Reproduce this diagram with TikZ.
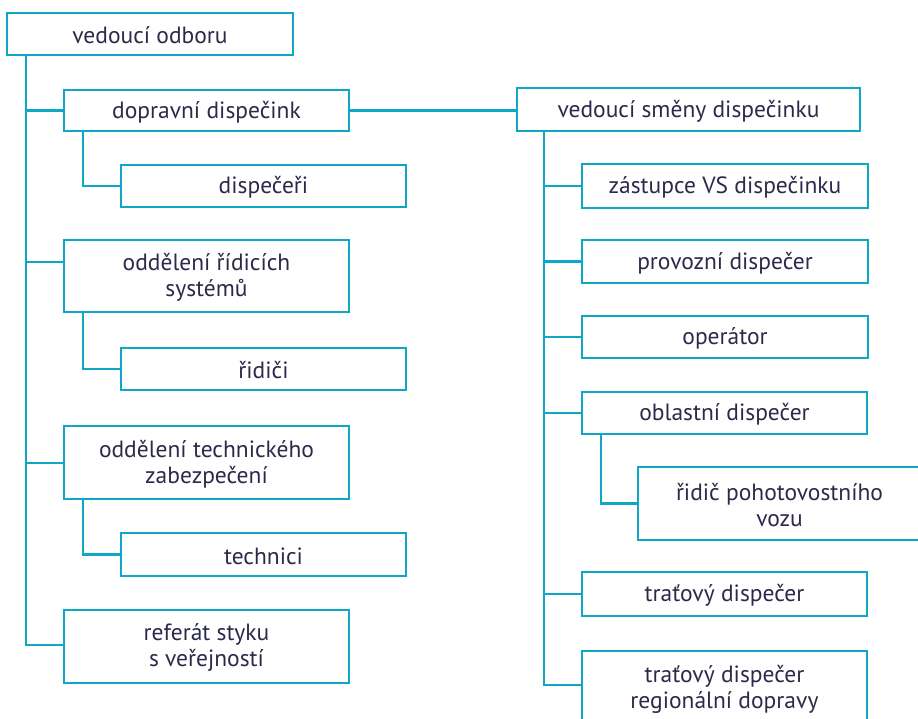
\documentclass[tikz,border=0pt]{standalone}
\usepackage{fontspec}
\setmainfont{PT Sans}
\definecolor{lineblue}{HTML}{0EA7C6}
\definecolor{txt}{HTML}{2B2A4A}
\newcommand\orgbox[6]{\node[ob, minimum width={#4-#2}, minimum height={#5-#3}] (#1) at ({(#2+#4)/2},{(#3+#5)/2}) {};
  \node[lbl] (#1-t) at ([yshift=-1.5pt]#1.center) {#6};}
\begin{document}
\begin{tikzpicture}[x=1pt,y=-1pt,
  ob/.style={draw=lineblue, line width=2.4pt, rectangle, inner sep=0pt, outer sep=0pt},
  lbl/.style={inner sep=0pt, align=center, text=txt, font=\fontsize{23.5}{26}\selectfont},
  conn/.style={draw=lineblue, line width=2.4pt}]
\useasboundingbox (0,0) rectangle (918,719);
\clip (0,0) rectangle (918,719);
% left column
\orgbox{vo}{7}{13}{293}{55}{vedoucí odboru}
\orgbox{dd}{64}{90}{349}{131}{dopravní dispečink}
\orgbox{disp}{121}{165}{406}{207}{dispečeři}
\orgbox{ors}{64}{240}{349}{312}{oddělení řídicích\\systémů}
\orgbox{rid}{121}{348}{406}{390}{řidiči}
\orgbox{otz}{64}{426}{349}{499}{oddělení technického\\zabezpečení}
\orgbox{tech}{121}{533}{406}{576}{technici}
\orgbox{ref}{64}{610}{349}{683}{referát styku\\s veřejností}
% right column
\orgbox{vsd}{517}{88}{860}{131}{vedoucí směny dispečinku}
\orgbox{zas}{582}{164}{868}{208}{zástupce VS dispečinku}
\orgbox{prov}{582}{240}{868}{283}{provozní dispečer}
\orgbox{oper}{582}{316}{868}{358}{operátor}
\orgbox{obl}{582}{392}{867}{434}{oblastní dispečer}
\orgbox{ridp}{638}{467}{921}{540}{řidič pohotovostního\\vozu}
\orgbox{trat}{582}{572}{867}{616}{traťový dispečer}
\orgbox{tratr}{582}{651}{867}{724}{traťový dispečer\\regionální dopravy}
% coordinates
\coordinate (L) at (26,645);
\coordinate (R) at (544,685);
% left connectors
\draw[conn] (vo.south -| L) -- (L) -- (ref.west |- L);
\draw[conn] (L |- dd.west) -- (dd.west);
\draw[conn] (L |- 0,262) -- (ors.west |- 0,262);
\draw[conn] (L |- 0,463) -- (otz.west |- 0,463);
\draw[conn] ([xshift=19pt]dd.south west) |- (disp.west);
\draw[conn] ([xshift=19pt]ors.south west) |- (rid.west);
\draw[conn] ([xshift=19pt]otz.south west) |- (tech.west);
% cross connector
\draw[conn] (dd.east) -- (vsd.west |- dd.east);
% right connectors
\draw[conn] (vsd.south -| R) -- (R) -- (tratr.west |- R);
\draw[conn] (R |- zas.west) -- (zas.west);
\draw[conn] (R |- prov.west) -- (prov.west);
\draw[conn] (R |- oper.west) -- (oper.west);
\draw[conn] (R |- obl.west) -- (obl.west);
\draw[conn] (R |- trat.west) -- (trat.west);
\draw[conn] ([xshift=19pt]obl.south west) |- (ridp.west);
\end{tikzpicture}
\end{document}
